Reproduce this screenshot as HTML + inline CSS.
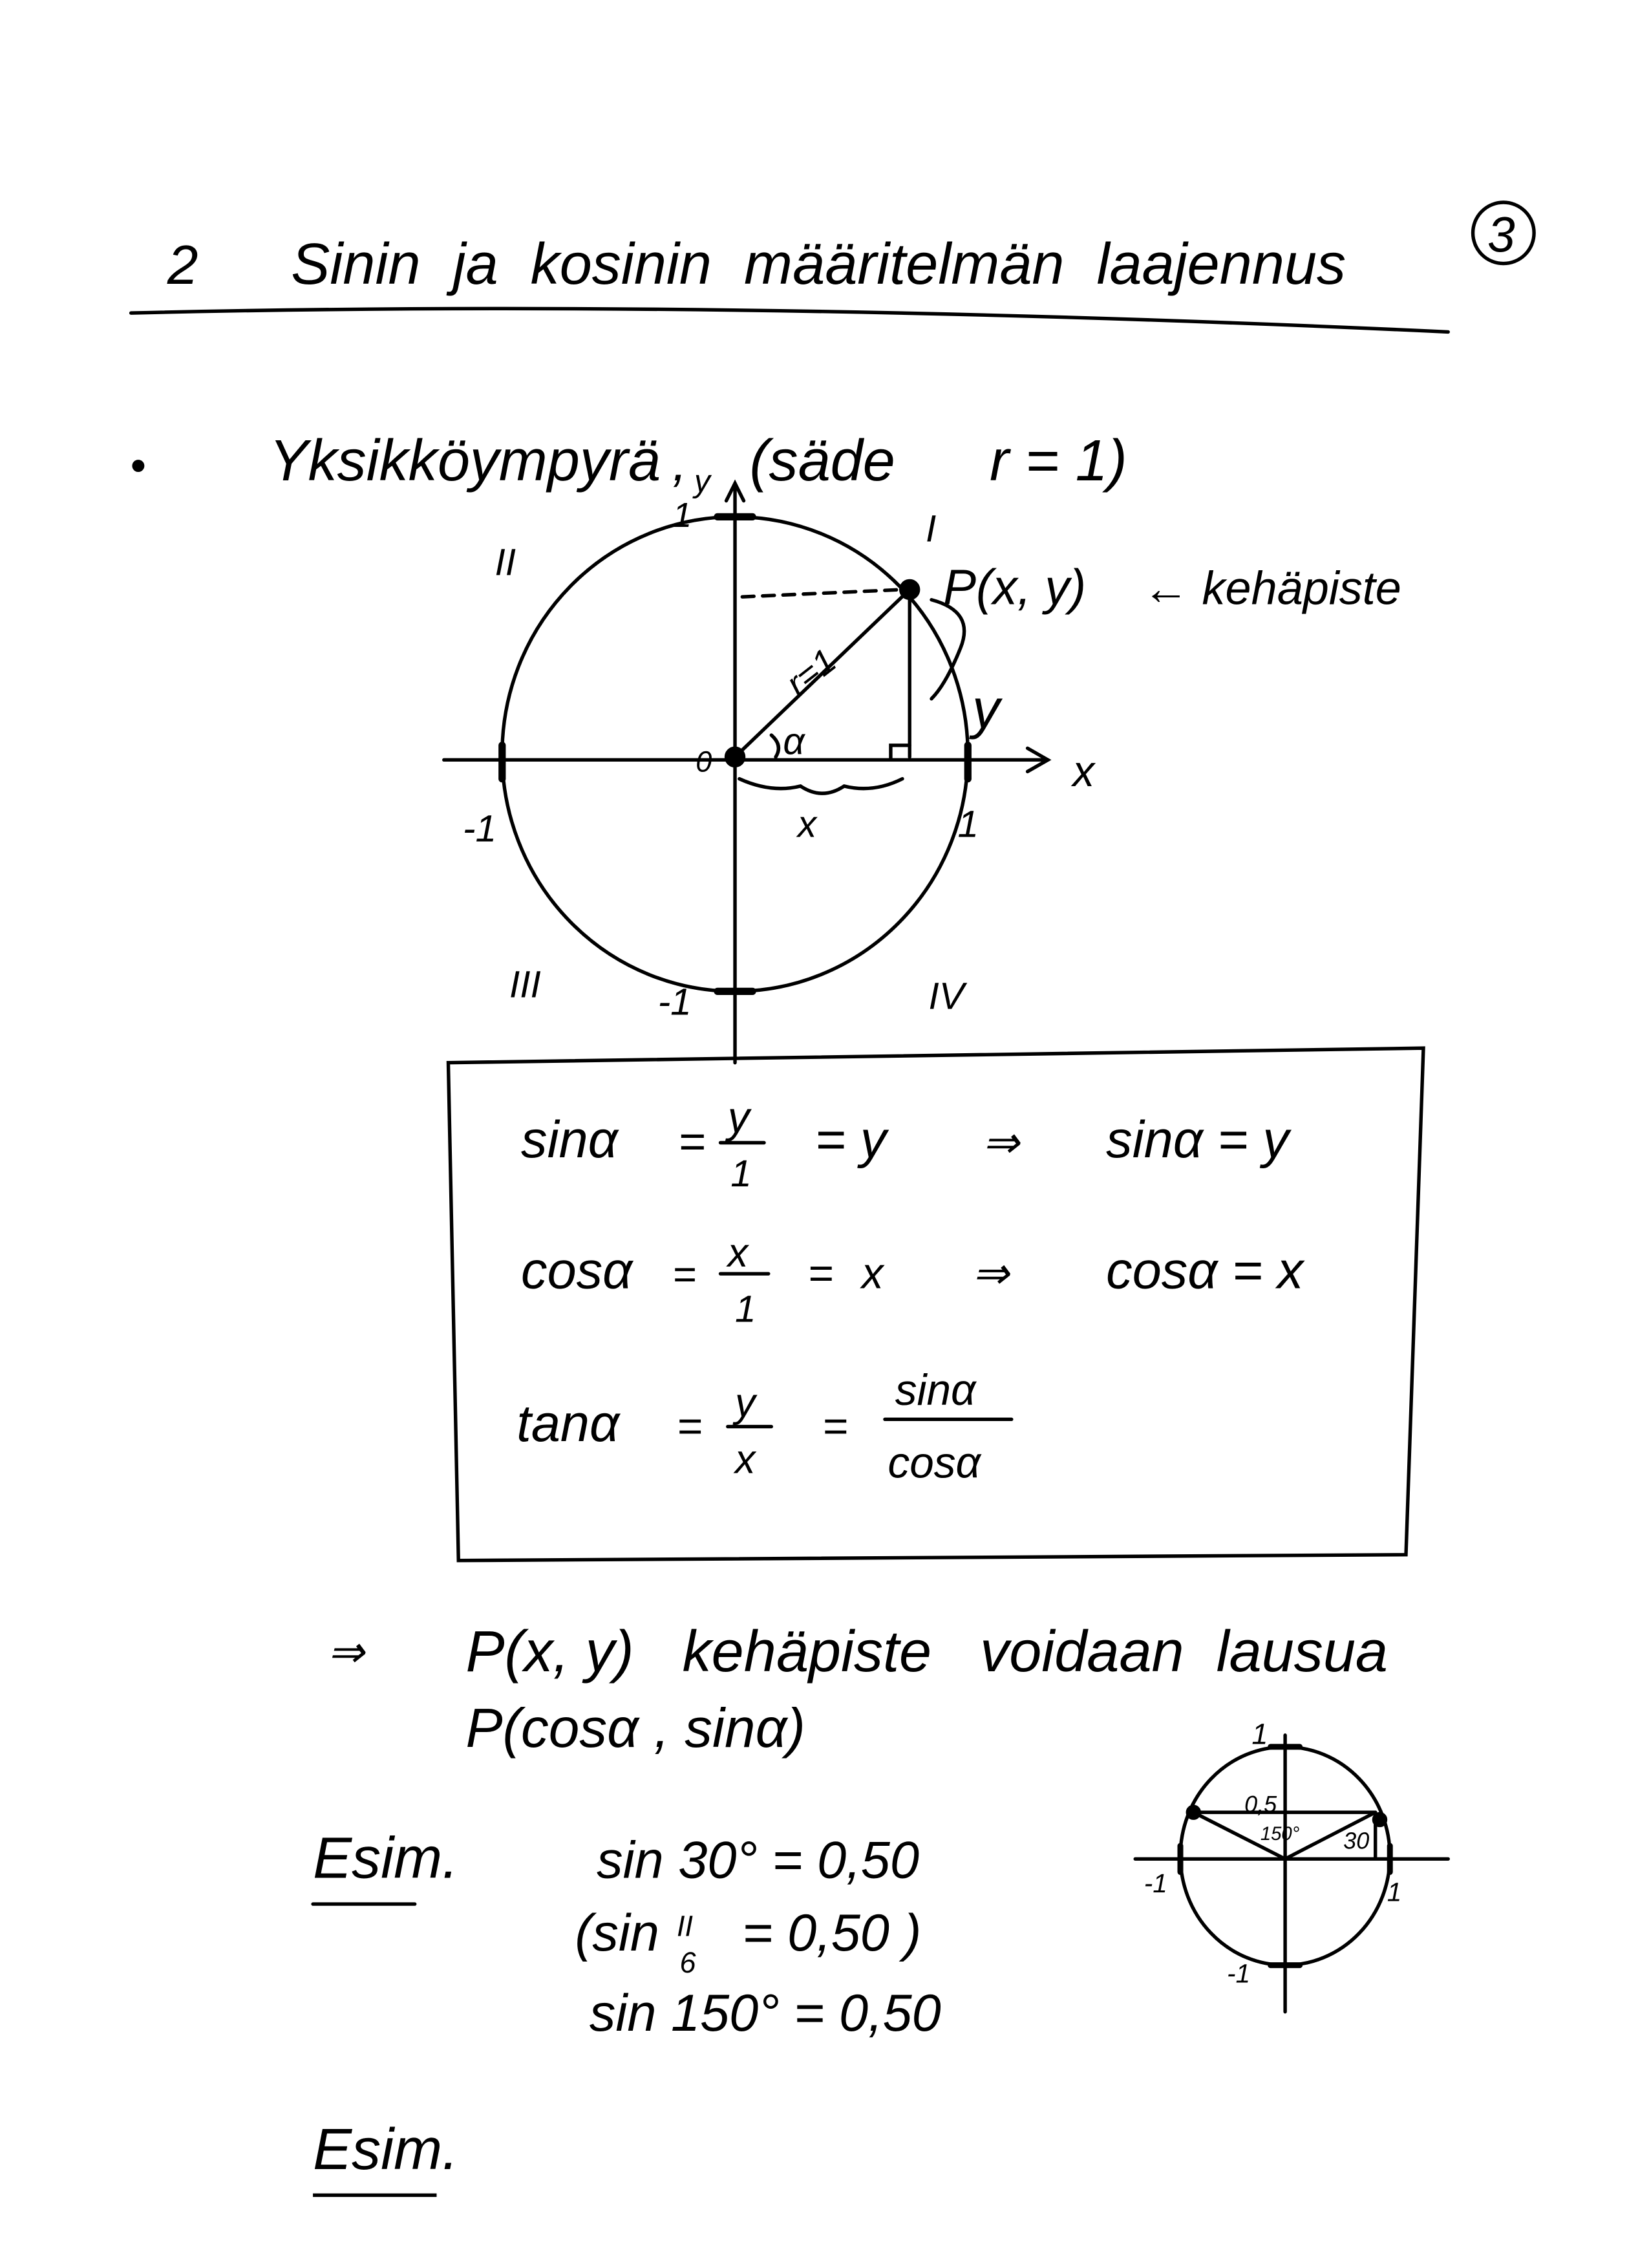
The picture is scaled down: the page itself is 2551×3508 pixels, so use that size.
<!DOCTYPE html>
<html><head><meta charset="utf-8"><style>
html,body{margin:0;padding:0;background:#fff;}
svg{display:block;}
text{font-family:"Liberation Sans",sans-serif;fill:#000;font-style:italic;}
</style></head><body>
<svg width="2551" height="3508" viewBox="0 0 1133 1558" xmlns="http://www.w3.org/2000/svg">
<g stroke="#000" stroke-width="2.4" fill="none" stroke-linecap="round">
<path d="M90 215 Q500 205 995 228"/>
<circle cx="1033" cy="160" r="21"/>
<circle cx="95" cy="320" r="3" fill="#000"/>
<ellipse cx="505" cy="518" rx="160" ry="163"/>
<line x1="305" y1="522" x2="720" y2="522"/>
<path d="M706 514 L720 522 L706 530"/>
<line x1="505" y1="332" x2="505" y2="730"/>
<path d="M499 344 L505 332 L511 344"/>
<line x1="505" y1="520" x2="625" y2="405"/>
<line x1="510" y1="410" x2="620" y2="405" stroke-dasharray="8,6"/>
<line x1="625" y1="405" x2="625" y2="520"/>
<path d="M612 522 L612 512 L625 512"/>
<path d="M640 412 Q670 420 660 445 Q650 470 640 480"/>
<path d="M508 535 Q530 545 550 540 Q565 550 580 540 Q600 545 620 535"/>
<path d="M530 505 Q538 512 533 520"/>
<line x1="345" y1="512" x2="345" y2="535" stroke-width="5"/>
<line x1="665" y1="512" x2="665" y2="535" stroke-width="5"/>
<line x1="493" y1="355" x2="517" y2="355" stroke-width="5"/>
<line x1="493" y1="681" x2="517" y2="681" stroke-width="5"/>
<circle cx="625" cy="405" r="6" fill="#000"/>
<circle cx="505" cy="520" r="6" fill="#000"/>
<path d="M308 730 L978 720 L966 1068 L315 1072 Z"/>
<line x1="495" y1="785" x2="525" y2="785"/>
<line x1="495" y1="875" x2="528" y2="875"/>
<line x1="500" y1="980" x2="530" y2="980"/>
<line x1="608" y1="975" x2="695" y2="975"/>
<line x1="215" y1="1308" x2="285" y2="1308"/>
<ellipse cx="883" cy="1275" rx="72" ry="75"/>
<line x1="780" y1="1277" x2="995" y2="1277"/>
<line x1="883" y1="1192" x2="883" y2="1382"/>
<line x1="883" y1="1277" x2="945" y2="1245"/>
<line x1="883" y1="1277" x2="820" y2="1245"/>
<line x1="820" y1="1245" x2="945" y2="1245"/>
<line x1="945" y1="1245" x2="945" y2="1277"/>
<line x1="873" y1="1200" x2="893" y2="1200" stroke-width="4"/>
<line x1="873" y1="1350" x2="893" y2="1350" stroke-width="4"/>
<line x1="811" y1="1268" x2="811" y2="1286" stroke-width="4"/>
<line x1="955" y1="1268" x2="955" y2="1286" stroke-width="4"/>
<circle cx="820" cy="1245" r="4" fill="#000"/>
<circle cx="948" cy="1250" r="4" fill="#000"/>
</g>
<g font-size="38">
<text x="115" y="195" font-family="Liberation Serif">2</text>
<text x="200" y="195" font-family="Liberation Serif" font-size="40">Sinin&#160;&#160;ja&#160;&#160;kosinin&#160;&#160;määritelmän&#160;&#160;laajennus</text>
<text x="1022" y="173" font-size="34" font-style="normal">3</text>
<text x="185" y="330" font-size="40" font-family="Liberation Serif">Yksikköympyrä</text>
<text x="462" y="330" font-size="36" font-family="Liberation Serif">,</text>
<text x="515" y="330" font-size="40" font-family="Liberation Serif">(säde</text>
<text x="680" y="330" font-size="40" font-family="Liberation Serif">r = 1)</text>
<text x="477" y="338" font-size="22">y</text>
<text x="462" y="362" font-size="24">1</text>
<text x="340" y="395" font-size="26" font-family="Liberation Serif" font-style="normal">II</text>
<text x="636" y="372" font-size="26" font-family="Liberation Serif">I</text>
<text x="350" y="685" font-size="26" font-family="Liberation Serif" font-style="normal">III</text>
<text x="638" y="693" font-size="26" font-family="Liberation Serif" font-style="normal">IV</text>
<text x="648" y="415" font-size="34">P(x, y)</text>
<text x="785" y="415" font-size="32">← kehäpiste</text>
<text x="540" y="475" font-size="24" transform="rotate(-38 550 465)">r=1</text>
<text x="538" y="518" font-size="26">α</text>
<text x="668" y="500" font-size="38">y</text>
<text x="548" y="575" font-size="26">x</text>
<text x="478" y="530" font-size="20">0</text>
<text x="737" y="540" font-size="30">x</text>
<text x="318" y="578" font-size="26">-1</text>
<text x="658" y="575" font-size="26">1</text>
<text x="452" y="697" font-size="26">-1</text>
<text x="358" y="795" font-size="36">sinα</text>
<text x="466" y="795" font-size="32">=</text>
<text x="500" y="778" font-size="30">y</text>
<text x="502" y="815" font-size="26">1</text>
<text x="560" y="795" font-size="36">= y</text>
<text x="675" y="795" font-size="30">⇒</text>
<text x="760" y="795" font-size="36">sinα = y</text>
<text x="358" y="885" font-size="36">cosα</text>
<text x="462" y="885" font-size="28">=</text>
<text x="500" y="870" font-size="28">x</text>
<text x="505" y="908" font-size="26">1</text>
<text x="555" y="885" font-size="30">=</text>
<text x="592" y="885" font-size="30">x</text>
<text x="668" y="885" font-size="30">⇒</text>
<text x="760" y="885" font-size="36">cosα = x</text>
<text x="355" y="990" font-size="36">tanα</text>
<text x="465" y="990" font-size="30">=</text>
<text x="505" y="973" font-size="28">y</text>
<text x="505" y="1012" font-size="28">x</text>
<text x="565" y="990" font-size="30">=</text>
<text x="615" y="965" font-size="30">sinα</text>
<text x="610" y="1015" font-size="30">cosα</text>
<text x="225" y="1145" font-size="30">⇒</text>
<text x="320" y="1148" font-size="40">P(x, y)&#160;&#160;&#160;kehäpiste&#160;&#160;&#160;voidaan&#160;&#160;lausua</text>
<text x="320" y="1200" font-size="38">P(cosα , sinα)</text>
<text x="215" y="1290" font-size="40" font-family="Liberation Serif">Esim.</text>
<text x="410" y="1290" font-size="36">sin 30° = 0,50</text>
<text x="395" y="1340" font-size="36">(sin</text>
<text x="465" y="1330" font-size="20" font-family="Liberation Serif" font-style="normal">II</text>
<text x="467" y="1355" font-size="20">6</text>
<text x="510" y="1340" font-size="36">= 0,50 )</text>
<text x="405" y="1395" font-size="36">sin 150° = 0,50</text>
<text x="215" y="1490" font-size="40" font-family="Liberation Serif">Esim.</text>
<line x1="215" y1="1508" x2="300" y2="1508" stroke="#000" stroke-width="2.4"/>
<text x="860" y="1198" font-size="20">1</text>
<text x="855" y="1245" font-size="16">0,5</text>
<text x="866" y="1264" font-size="13">150°</text>
<text x="923" y="1270" font-size="16">30</text>
<text x="786" y="1300" font-size="18">-1</text>
<text x="953" y="1306" font-size="18">1</text>
<text x="843" y="1362" font-size="18">-1</text>
</g>
</svg>
</body></html>
